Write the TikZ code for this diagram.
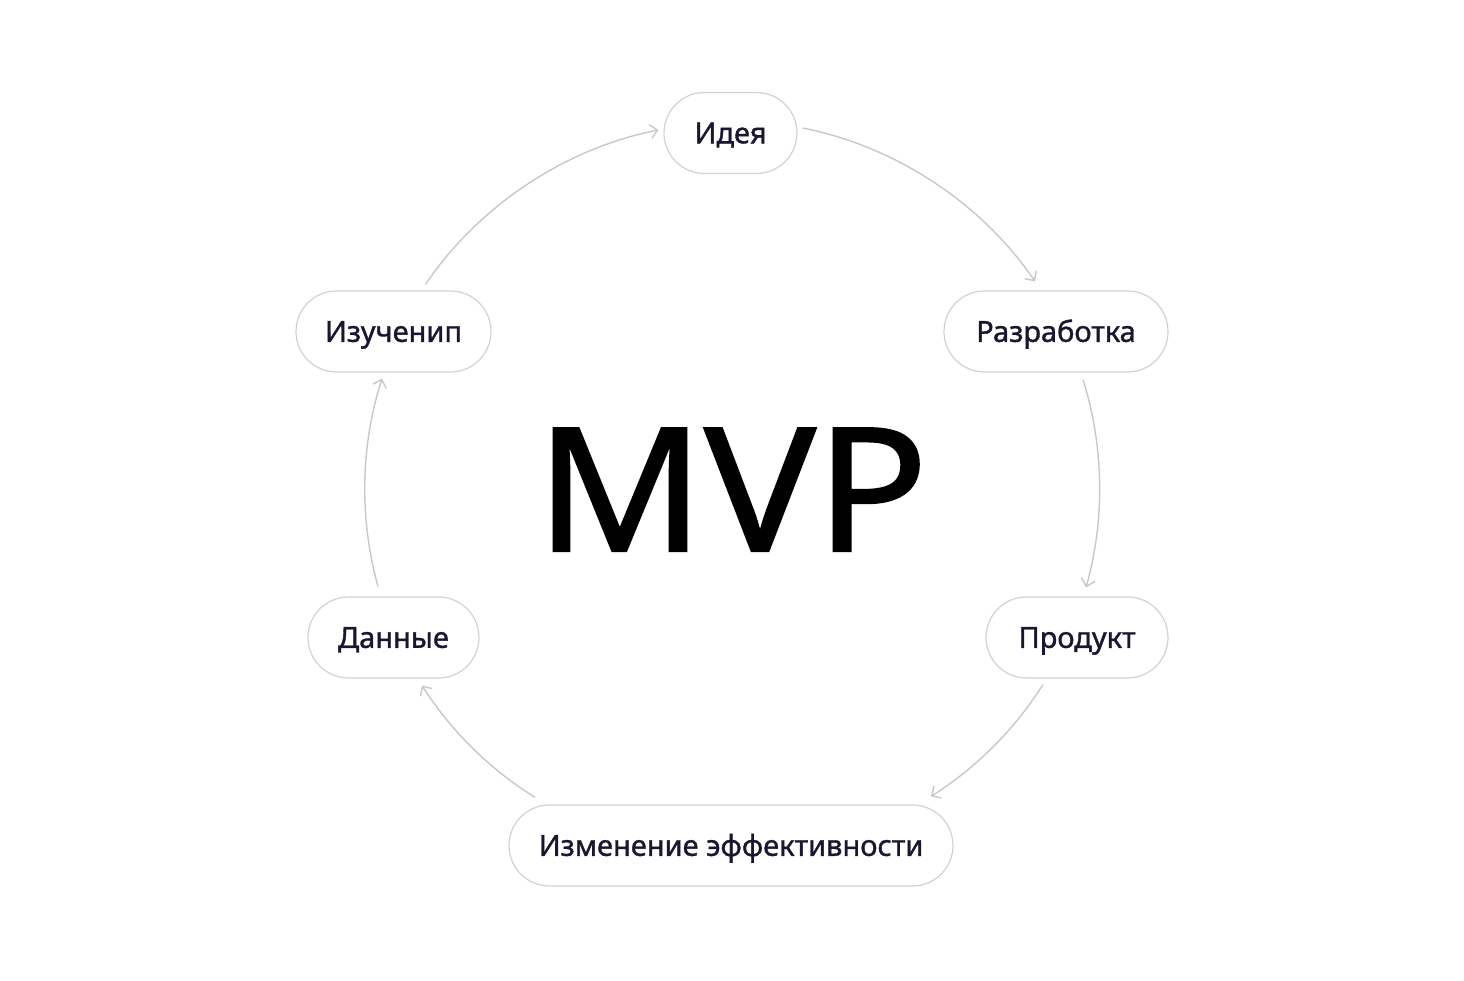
\documentclass[tikz,border=0pt]{standalone}
\usepackage{fontspec}
\setmainfont{Noto Sans}
\newfontfamily\labelfont[FakeBold=1.2]{Noto Sans}
\newfontfamily\bigfont[FakeBold=1.2]{Noto Sans}
\usetikzlibrary{arrows.meta}
\definecolor{txt}{HTML}{1C1530}
\definecolor{pillline}{HTML}{D2D2D2}
\definecolor{arrline}{HTML}{C8C8C8}
\begin{document}
\begin{tikzpicture}[x=1pt,y=1pt,
  pill/.style={draw=pillline, line width=1.2pt, fill=white, rectangle,
    rounded corners=40.5pt, minimum height=81pt, inner xsep=0pt, inner ysep=0pt,
    text height=20.7pt, text depth=0pt,
    text=txt, font=\labelfont\fontsize{29}{34}\selectfont},
  arr/.style={draw=arrline, line width=1.4pt,
    -{Straight Barb[length=7pt,width=14pt,line width=1.4pt]},
    looseness=0.87},
]
\useasboundingbox[fill=white] (0,0) rectangle (1464,980);

\node[pill, minimum width=133pt] (idea) at (730.5,847) {Идея};
\node[pill, minimum width=224pt] (razr) at (1056,648.5) {Разработка};
\node[pill, minimum width=195pt] (izu)  at (393.5,648.5) {Изученип};
\node[pill, minimum width=182pt] (prod) at (1077,342.5) {Продукт};
\node[pill, minimum width=171pt] (dan)  at (393.5,342.5) {Данные};
\node[pill, minimum width=444pt] (izm)  at (731,134.5) {Изменение эффективности};

\node[font=\bigfont\fontsize{172}{180}\selectfont, text=black, inner sep=0pt, anchor=base] (mvp) at (732,429) {\scalebox{1.08}[1]{MVP}};

\draw[arr] ([xshift=32pt,yshift=6pt]izu.north) to[bend left=22.4] ([xshift=-5pt,yshift=3pt]idea.west);
\draw[arr] ([xshift=5pt,yshift=5pt]idea.east) to[bend left=22.3] ([xshift=-21pt,yshift=9pt]razr.north);
\draw[arr] ([xshift=27pt,yshift=-7pt]razr.south) to[bend left=16.5] ([xshift=9pt,yshift=9pt]prod.north);
\draw[arr] ([xshift=-34pt,yshift=-6pt]prod.south) to[bend left=12.5] ([xshift=200pt,yshift=8pt]izm.north);
\draw[arr] ([xshift=-196pt,yshift=7pt]izm.north) to[bend left=12.6] ([xshift=28.5pt,yshift=-7pt]dan.south);
\draw[arr] ([xshift=-15.5pt,yshift=10pt]dan.north) to[bend left=16.6] ([xshift=-11.5pt,yshift=-6pt]izu.south);
\end{tikzpicture}
\end{document}
